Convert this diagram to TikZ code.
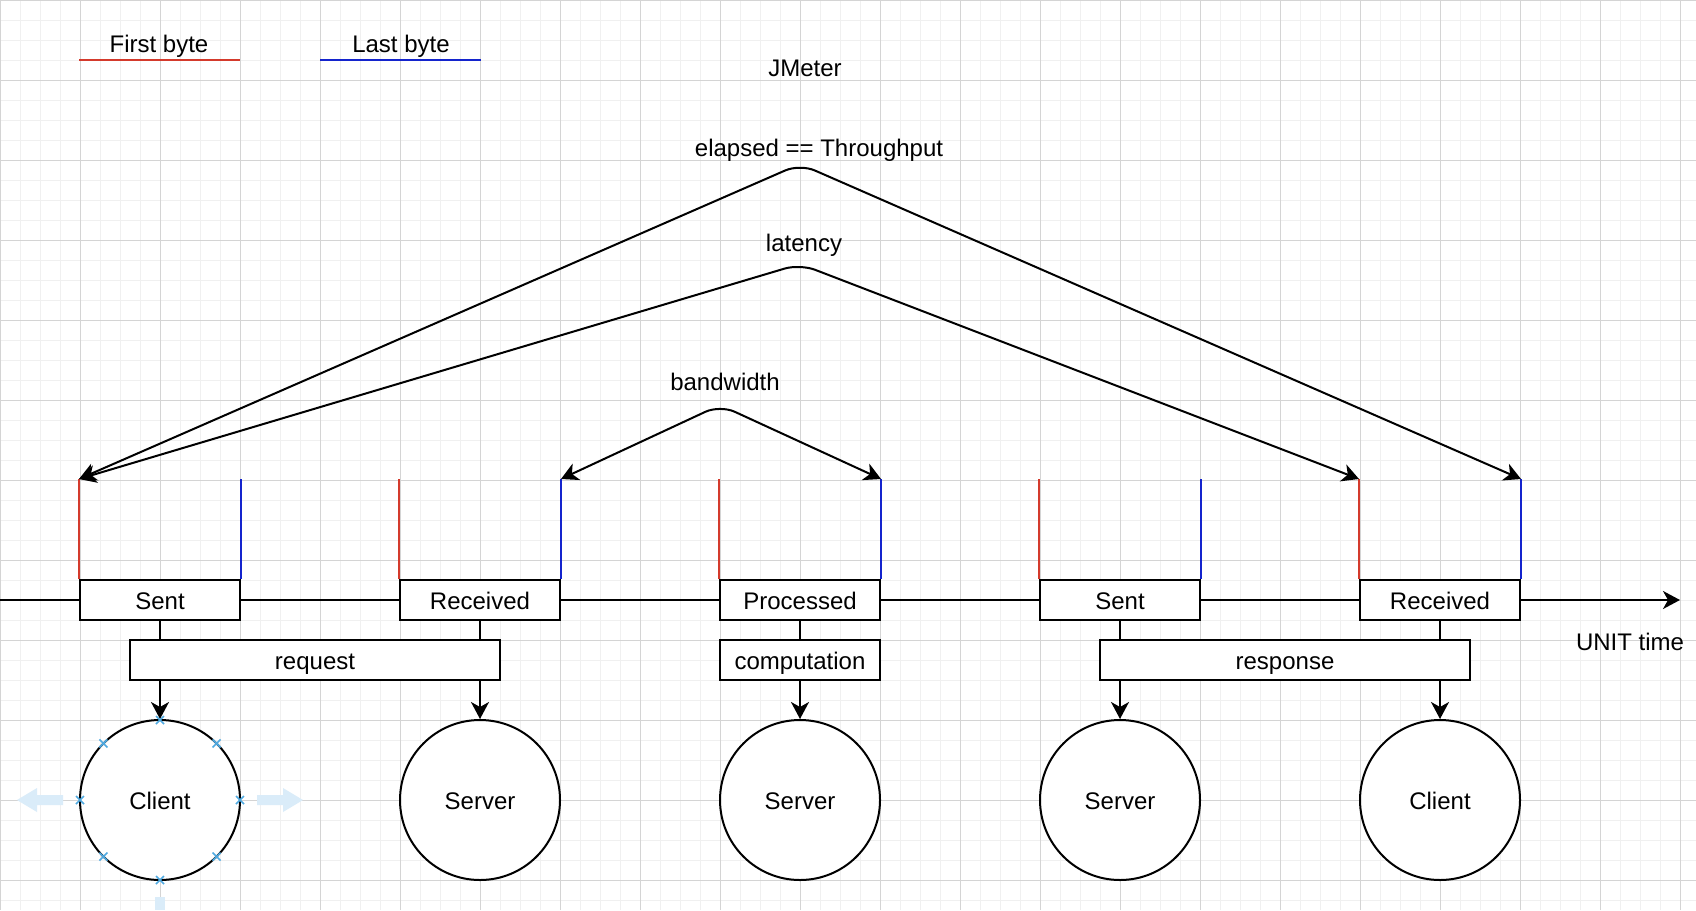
\documentclass[tikz,border=0pt]{standalone}
\usepackage{fontspec}
\setmainfont{Liberation Sans}
\usetikzlibrary{arrows.meta,calc}
\definecolor{minorgrid}{RGB}{240,240,240}
\definecolor{majorgrid}{RGB}{212,212,212}
\definecolor{fbred}{RGB}{212,58,44}
\definecolor{lbblue}{RGB}{20,36,205}
\definecolor{selblue}{RGB}{80,170,225}
\definecolor{ghost}{RGB}{218,236,249}
\tikzset{
  box/.style={draw=black, line width=1pt, fill=white, minimum width=80pt, minimum height=20pt, inner sep=0pt, text height=9.3pt, text depth=0pt},
  wbox/.style={box, minimum width=185pt},
  disc/.style={draw=black, line width=1pt, fill=white, circle, minimum size=80pt, inner sep=0pt, text height=9.3pt, text depth=0pt},
  lbl/.style={inner sep=0pt},
  conn/.style={line width=1pt},
  arr/.style={line width=1pt, -{Stealth[length=8.5pt,width=9pt,inset=2.5pt]}},
  darr/.style={line width=1pt, {Stealth[length=8.5pt,width=9pt,inset=2.5pt]}-{Stealth[length=8.5pt,width=9pt,inset=2.5pt]}, rounded corners=8pt},
  fbline/.style={draw=fbred, line width=1pt},
  lbline/.style={draw=lbblue, line width=1pt},
  selx/.style={draw=selblue, line width=0.8pt},
}
\begin{document}
\begin{tikzpicture}[x=0.5pt, y=-0.5pt, font=\fontsize{12}{14}\selectfont]
\useasboundingbox (0,0) rectangle (1696,910);
\fill[white] (0,0) rectangle (1696,910);
% grid
\foreach \gx in {0,20,...,1680} \draw[minorgrid, line width=0.5pt] (\gx,0) -- (\gx,910);
\foreach \gy in {0,20,...,900} \draw[minorgrid, line width=0.5pt] (0,\gy) -- (1696,\gy);
\foreach \gx in {0,80,...,1680} \draw[majorgrid, line width=0.5pt] (\gx,0) -- (\gx,910);
\foreach \gy in {0,80,...,880} \draw[majorgrid, line width=0.5pt] (0,\gy) -- (1696,\gy);

% legend
\node[lbl] (fbtext) at (159,46) {First byte};
\coordinate (fba) at (79,60); \coordinate (fbb) at (240,60);
\draw[fbline] (fba) -- (fbb);
\node[lbl] (lbtext) at (401,46) {Last byte};
\coordinate (lba) at (320,60); \coordinate (lbb) at (481,60);
\draw[lbline] (lba) -- (lbb);

\node[lbl] (jmeter) at (805,68) {JMeter};

% time axis
\coordinate (axs) at (0,600); \coordinate (axe) at (1680,600);
\draw[arr] (axs) -- (axe);
\node[lbl] (unit) at (1630,642) {UNIT time};

% event boxes
\node[box] (sent1) at (160,600) {Sent};
\node[box] (recv1) at (480,600) {Received};
\node[box] (proc)  at (800,600) {Processed};
\node[box] (sent2) at (1120,600) {Sent};
\node[box] (recv2) at (1440,600) {Received};

% first/last byte markers
\draw[fbline] (sent1.north west) -- ++(0,-100) coordinate (s1f);
\draw[lbline] (sent1.north east) -- ++(0,-100) coordinate (s1l);
\draw[fbline] (recv1.north west) -- ++(0,-100) coordinate (r1f);
\draw[lbline] (recv1.north east) -- ++(0,-100) coordinate (r1l);
\draw[fbline] (proc.north west) -- ++(0,-100) coordinate (pf);
\draw[lbline] (proc.north east) -- ++(0,-100) coordinate (pl);
\draw[fbline] (sent2.north west) -- ++(0,-100) coordinate (s2f);
\draw[lbline] (sent2.north east) -- ++(0,-100) coordinate (s2l);
\draw[fbline] (recv2.north west) -- ++(0,-100) coordinate (r2f);
\draw[lbline] (recv2.north east) -- ++(0,-100) coordinate (r2l);

% span boxes
\node[wbox] (request) at (315,660) {request};
\node[box] (comp) at (800,660) {computation};
\node[wbox] (response) at (1285,660) {response};

% circles
\node[disc] (client1) at (160,800) {Client};
\node[disc] (server1) at (480,800) {Server};
\node[disc] (server2) at (800,800) {Server};
\node[disc] (server3) at (1120,800) {Server};
\node[disc] (client2) at (1440,800) {Client};

% links box -> span box -> circle
\draw[conn] (sent1.south) -- (sent1.south |- request.north);
\draw[arr] (request.south -| client1) -- (client1.north);
\draw[conn] (recv1.south) -- (recv1.south |- request.north);
\draw[arr] (request.south -| server1) -- (server1.north);
\draw[conn] (proc.south) -- (comp.north);
\draw[arr] (comp.south) -- (server2.north);
\draw[conn] (sent2.south) -- (sent2.south |- response.north);
\draw[arr] (response.south -| server3) -- (server3.north);
\draw[conn] (recv2.south) -- (recv2.south |- response.north);
\draw[arr] (response.south -| client2) -- (client2.north);

% measures
\coordinate (elpk) at (800,164);
\coordinate (latpk) at (800,264);
\coordinate (bwpk) at (720,405);
\draw[darr] (s1f) -- (elpk) -- (r2l);
\draw[darr] (s1f) -- (latpk) -- (r2f);
\draw[darr] (r1l) -- (bwpk) -- (pl);
\node[lbl] (elapsed) at (819,150) {elapsed == Throughput};
\node[lbl] (latency) at (804,245) {latency};
\node[lbl] (bandwidth) at (725,382) {bandwidth};

% selection artefacts around the first client
\fill[ghost] (17,800) -- (37,788) -- (37,795) -- (63,795) -- (63,805) -- (37,805) -- (37,812) -- cycle;
\fill[ghost] (303,800) -- (283,788) -- (283,795) -- (257,795) -- (257,805) -- (283,805) -- (283,812) -- cycle;
\fill[ghost] (155,897) rectangle (165,910);
\foreach \a in {0,45,...,315} {
  \draw[selx] ($(client1.center)+(\a:80)+(-4,-4)$) -- ++(8,8);
  \draw[selx] ($(client1.center)+(\a:80)+(-4,4)$) -- ++(8,-8);
}
\end{tikzpicture}
\end{document}
